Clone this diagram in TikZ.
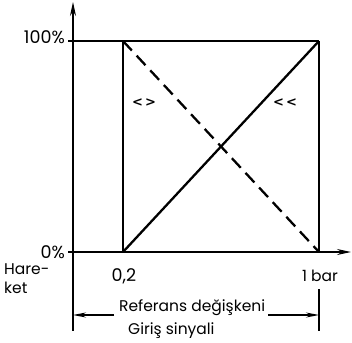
\documentclass[tikz,border=0pt]{standalone}
\usepackage{fontspec}
\setmainfont{Poppins}
\newfontfamily\symfam{DejaVu Sans}
\usetikzlibrary{arrows.meta}
\begin{document}
\begin{tikzpicture}[x=1pt,y=-1pt,
  thinline/.style={line width=1.1pt},
  curve/.style={line width=2.3pt},
  dashcurve/.style={line width=2.3pt, dash pattern=on 13pt off 7pt},
  axisarrow/.style={-{Stealth[length=14pt,width=6pt]}},
  dimarrow/.style={-{Stealth[length=13pt,width=5pt]}},
  lbl/.style={inner sep=0pt, font=\fontsize{15.5}{20}\selectfont},
  numlbl/.style={inner sep=0pt, font=\fontsize{17.5}{20}\selectfont},
  symlbl/.style={inner sep=0pt, font=\symfam\bfseries\fontsize{13}{14}\selectfont}]
\useasboundingbox (0,0) rectangle (352,342);
% key points
\coordinate (o) at (73,252);
\coordinate (ytop) at (73,2);
\coordinate (xend) at (351,252);
\coordinate (a0) at (123,252);
\coordinate (a1) at (123,41);
\coordinate (b0) at (319,252);
\coordinate (b1) at (319,41);
\coordinate (t100) at (68,41);
\coordinate (t0) at (68,252);
\coordinate (ybot) at (73,331);
\coordinate (bbot) at (319,331);
\coordinate (bbar) at (319,289);
\coordinate (dl) at (73,315);
\coordinate (dr) at (319,315);
\coordinate (dlt) at (114,315);
\coordinate (drt) at (268,315);
% axes
\draw[thinline, axisarrow] (o) -- (ytop);
\draw[thinline, axisarrow] (t0) -- (xend);
\draw[thinline] (t100) -- (b1);
\draw[thinline] (a0) -- (a1);
\draw[thinline] (b0) -- (b1);
\draw[thinline] (o) -- (ybot);
\draw[thinline] (bbar) -- (bbot);
% curves
\draw[curve] (a0) -- (b1);
\draw[dashcurve] (a1) -- (b0);
% dimension arrows
\draw[thinline, dimarrow] (dlt) -- (dl);
\draw[thinline, dimarrow] (drt) -- (dr);
% labels
\node[numlbl, anchor=base east] (l100) at (65,44) {100\%};
\node[numlbl, anchor=base east] (l0) at (65,258) {0\%};
\node[lbl, anchor=base west] (hare) at (4,274) {Hare-};
\node[lbl, anchor=base west] (ket) at (4,293) {ket};
\node[numlbl, anchor=base] (l02) at (124,281) {0,2};
\node[lbl, anchor=base] (l1) at (320,281) {1 bar};
\node[lbl, anchor=base west] (ref) at (119,311) {Referans değişkeni};
\node[lbl, anchor=base west] (gir) at (128,334) {Giriş sinyali};
\node[symlbl] (m1) at (144,103) {<\,>};
\node[symlbl] (m2) at (285,103) {<\,<};
\end{tikzpicture}
\end{document}
